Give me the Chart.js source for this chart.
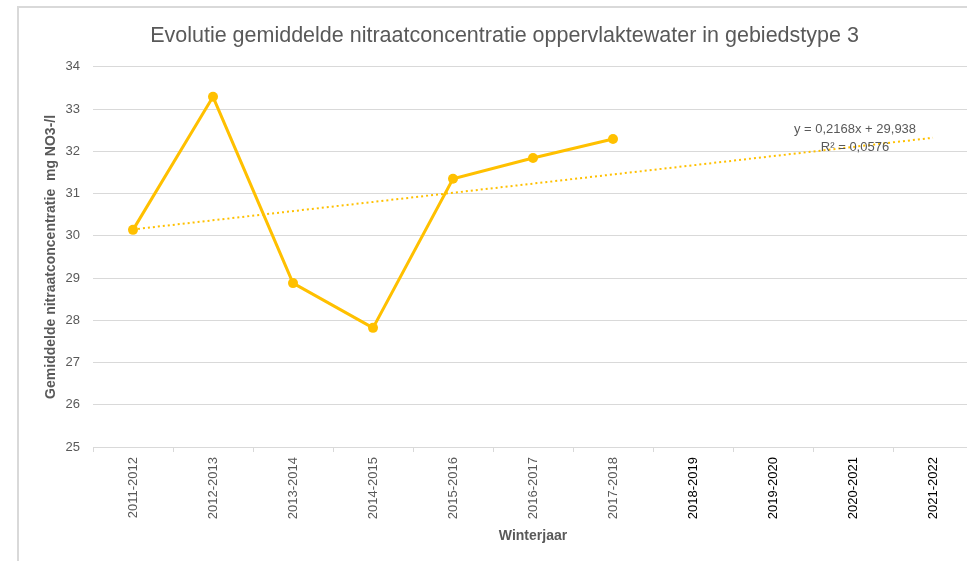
<!DOCTYPE html>
<html>
<head>
<meta charset="utf-8">
<script src="https://cdn.jsdelivr.net/npm/chart.js@4"></script>
<style>
  html, body { margin: 0; padding: 0; background: #fff; overflow: hidden; }
  #frame { position: absolute; left: 17px; top: 6px; width: 1100px; height: 700px;
           border-left: 2px solid #d9d9d9; border-top: 2px solid #d9d9d9; }
  #wrap { position: absolute; left: 0; top: 0; width: 1010px; height: 561px; }
</style>
</head>
<body>
<div id="frame"></div>
<div id="wrap"><canvas id="nitraatChart" width="1010" height="561"></canvas></div>
<script>
// winterjaren (categorieen)
var winterjaren = ['2011-2012', '2012-2013', '2013-2014', '2014-2015', '2015-2016', '2016-2017',
                   '2017-2018', '2018-2019', '2019-2020', '2020-2021', '2021-2022'];
var concentratie = [30.14, 33.29, 28.88, 27.82, 31.35, 31.84, 32.29];
// lineaire trendlijn: begin- en eindwaarde (y = 0,2168x + 29,938)
var trendlijn = [30.15, null, null, null, null, null, null, null, null, null, 32.32];
var trendTekst = ['y = 0,2168x + 29,938', 'R\u00b2 = 0,0576'];
var yTicks = [25, 34];

var grijs = '#595959';
var goud = '#FFC000';
Chart.defaults.font.family = "'Liberation Sans', Arial, sans-serif";

// tekst van de trendlijn
var trendLabel = {
    id: 'trendLabel',
    afterDatasetsDraw: function(chart) {
        var c = chart.ctx;
        c.save();
        c.font = "13px 'Liberation Sans', Arial, sans-serif";
        c.fillStyle = grijs;
        c.textAlign = 'center';
        c.textBaseline = 'middle';
        c.fillText(trendTekst[0], 855, 129);
        c.fillText(trendTekst[1], 855, 147);
        c.restore();
    }
};

var ctx = document.getElementById('nitraatChart').getContext('2d');
var nitraatChart = new Chart(ctx, {
    type: 'line',
    data: {
        labels: winterjaren,
        datasets: [{
            label: 'Gemiddelde nitraatconcentratie',
            data: concentratie,
            borderColor: goud,
            backgroundColor: goud,
            borderWidth: 3,
            pointRadius: 5,
            pointBorderWidth: 0,
            tension: 0
        }, {
            label: 'Trendlijn',
            data: trendlijn,
            borderColor: goud,
            borderWidth: 2,
            borderDash: [2, 3],
            pointRadius: 0,
            spanGaps: true,
            tension: 0
        }]
    },
    options: {
        responsive: false,
        animation: false,
        layout: { padding: { left: 36, right: 37, top: 0, bottom: 0 } },
        plugins: {
            legend: { display: false },
            tooltip: { enabled: false },
            title: {
                display: true,
                text: 'Evolutie gemiddelde nitraatconcentratie oppervlaktewater in gebiedstype 3',
                color: grijs,
                font: { size: 21.5, weight: 'normal' },
                padding: { top: 23, bottom: 18 }
            }
        },
        scales: {
            x: {
                offset: true,
                grid: { offset: true, drawOnChartArea: false, drawTicks: true, tickLength: 5, color: '#d9d9d9' },
                border: { color: '#d9d9d9', width: 1 },
                ticks: {
                    minRotation: 90,
                    maxRotation: 90,
                    padding: 5,
                    font: { size: 13 },
                    color: function(c) { return c.index < 7 ? grijs : '#000'; }
                },
                title: {
                    display: true,
                    text: 'Winterjaar',
                    color: grijs,
                    font: { size: 14, weight: 'bold' },
                    padding: { top: 0, bottom: 16 }
                },
                afterFit: function(scale) { scale.height = 114; }
            },
            y: {
                min: yTicks[0],
                max: yTicks[1],
                ticks: { stepSize: 1, padding: 13, color: grijs, font: { size: 13 } },
                grid: { color: '#d9d9d9', drawTicks: false },
                border: { display: false },
                title: {
                    display: true,
                    text: 'Gemiddelde nitraatconcentratie  mg NO3-/l',
                    color: grijs,
                    font: { size: 14, weight: 'bold' },
                    padding: { top: 7, bottom: 0 }
                },
                afterFit: function(scale) { scale.width = 57; }
            }
        }
    },
    plugins: [trendLabel]
});
</script>
</body>
</html>
